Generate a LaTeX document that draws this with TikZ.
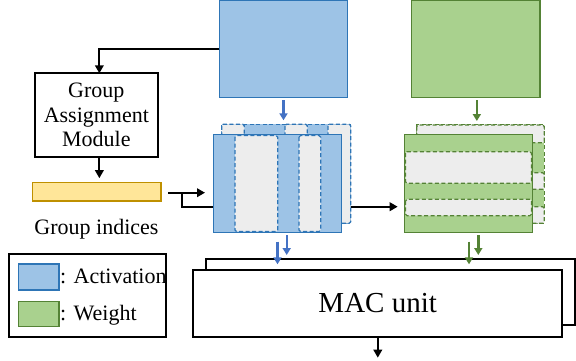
\documentclass[tikz,border=0pt]{standalone}
\usepackage{fontspec}
\setmainfont{Liberation Serif}
\usetikzlibrary{arrows.meta}

\definecolor{actfill}{HTML}{9DC3E6}
\definecolor{actline}{HTML}{2E75B6}
\definecolor{actarrow}{HTML}{4472C4}
\definecolor{wfill}{HTML}{A9D18E}
\definecolor{wline}{HTML}{548235}
\definecolor{idxfill}{HTML}{FFE699}
\definecolor{idxline}{HTML}{BF9000}
\definecolor{holdfill}{HTML}{EDEDED}

\tikzset{
  blk/.style={inner sep=0pt, outer sep=0pt, anchor=north west},
  plainbox/.style={blk, draw=black, line width=1.8pt, fill=white},
  actbox/.style={blk, draw=actline, line width=1.3pt, fill=actfill},
  wbox/.style={blk, draw=wline, line width=1.3pt, fill=wfill},
  actback/.style={actbox, dash pattern=on 4pt off 2.5pt},
  wback/.style={wbox, dash pattern=on 4pt off 2.5pt},
  actgap/.style={draw=actline, line width=1.2pt, fill=holdfill, dash pattern=on 4pt off 2.5pt, rounded corners=1.5pt},
  wgap/.style={draw=wline, line width=1.2pt, fill=holdfill, dash pattern=on 4pt off 2.5pt, rounded corners=1.5pt},
  wire/.style={draw=black, line width=2pt},
  arrowk/.style={wire, -{Triangle[length=8pt,width=8.5pt]}},
  arrowa/.style={draw=actarrow, line width=2.4pt, -{Triangle[length=7pt,width=8pt]}},
  arroww/.style={draw=wline, line width=2.4pt, -{Triangle[length=7pt,width=8pt]}},
  label/.style={font=\fontsize{22}{24.7}\selectfont},
}

\begin{document}
\begin{tikzpicture}[x=1pt, y=-1pt]
\useasboundingbox (0,0) rectangle (576,360);

% source tensors
\node[actbox, minimum width=128.4pt, minimum height=97pt] (actsrc) at (219.3,0.3) {};
\node[wbox, minimum width=128.3pt, minimum height=97pt] (wsrc) at (411.7,0.3) {};

% group assignment module and its index buffer
\node[plainbox, minimum width=122.7pt, minimum height=83.4pt, align=center, label] (gam) at (35,73.3)
  {Group\\Assignment\\Module};
\node[blk, draw=idxline, line width=1.2pt, fill=idxfill, minimum width=128.3pt, minimum height=18.3pt] (idx) at (32.7,182.7) {};
\node[label, anchor=base] (idxlabel) at (96.5,234) {Group indices};

% grouped activations: back layer
\node[actback, minimum width=129pt, minimum height=99pt] (actback) at (221.7,124.3) {};
\draw[actgap] (221.7,124.3) rectangle (244.3,223.3);
\draw[actgap] (285,124.3) rectangle (307.3,223.3);
\draw[actgap] (328,124.3) rectangle (350.7,223.3);
% grouped activations: front layer
\node[actbox, minimum width=128.4pt, minimum height=98.4pt] (actfront) at (213.3,134.3) {};
\draw[actgap] (235,135.6) rectangle (277.7,231.4);
\draw[actgap] (299,135.6) rectangle (320.7,231.4);

% grouped weights: back layer
\node[wback, minimum width=127.6pt, minimum height=98.3pt] (wback) at (416.7,125) {};
\draw[wgap] (416.7,125) rectangle (544.3,142.7);
\draw[wgap] (416.7,172.7) rectangle (544.3,189.3);
\draw[wgap] (416.7,206.7) rectangle (544.3,223.3);
% grouped weights: front layer
\node[wbox, minimum width=128.4pt, minimum height=98.4pt] (wfront) at (404.3,134.3) {};
\draw[wgap] (405.6,151.7) rectangle (531.4,183.3);
\draw[wgap] (405.6,199.3) rectangle (531.4,215.7);

% MAC units
\node[plainbox, minimum width=369.3pt, minimum height=66pt] (macback) at (205.7,259) {};
\node[plainbox, minimum width=369pt, minimum height=66.7pt] (mac) at (193.3,270) {};
\node[font=\fontsize{29}{32}\selectfont] (mactext) at (377.7,303) {MAC unit};

% legend
\node[plainbox, minimum width=156.4pt, minimum height=82.4pt] (legend) at (9.3,254.3) {};
\node[blk, draw=actline, line width=1.2pt, fill=actfill, minimum width=40.7pt, minimum height=26pt] (keyact) at (18.3,264) {};
\node[blk, draw=wline, line width=1.2pt, fill=wfill, minimum width=40.7pt, minimum height=25pt] (keyw) at (18.3,301.7) {};
\node[label, anchor=base west, inner sep=0pt] (keyacttext) at (60,283) {: Activation};
\node[label, anchor=base west, inner sep=0pt] (keywtext) at (60,320.5) {: Weight};

% control path
\coordinate (gamin) at ([xshift=3pt]gam.north);
\coordinate (gamout) at ([xshift=3pt]gam.south);
\draw[arrowk] (actsrc.west) -| (gamin);
\draw[arrowk, shorten >=4.5pt] (gamout) -- (gamout |- idx.north);

\coordinate (split) at (182.3,192.7);
\coordinate (bus) at (182.3,206.7);
\coordinate (idxtap) at (168.3,192.7);
\draw[arrowk, shorten >=8.3pt] (idxtap) -- (idxtap -| actfront.west);
\draw[wire] (split) -- (bus) -- (bus -| actfront.west);
\draw[arrowk, shorten >=6.6pt] (bus -| actback.east) -- (bus -| wfront.west);

% data path
\draw[arrowa, shorten <=3pt, shorten >=4pt] (actsrc.south) -- (actsrc.south |- actback.north);
\draw[arroww, shorten <=3pt, shorten >=4pt] ([xshift=1pt]wsrc.south) -- ([xshift=1pt]wsrc.south |- wback.north);

\draw[arrowa, shorten <=9pt, shorten >=5.7pt] (actfront.south) -- (actfront.south |- mac.north);
\draw[arrowa, shorten <=11.7pt, shorten >=4pt] ([xshift=0.5pt]actback.south) -- ([xshift=0.5pt]actback.south |- macback.north);
\draw[arroww, shorten <=9pt, shorten >=5.7pt] ([xshift=0.5pt]wfront.south) -- ([xshift=0.5pt]wfront.south |- mac.north);
\draw[arroww, shorten <=11.7pt, shorten >=4pt] ([xshift=-2.2pt]wback.south) -- ([xshift=-2.2pt]wback.south |- macback.north);

\coordinate (result) at ([yshift=-21pt]mac.south);
\draw[arrowk] (mac.south) -- (result);
\end{tikzpicture}
\end{document}
